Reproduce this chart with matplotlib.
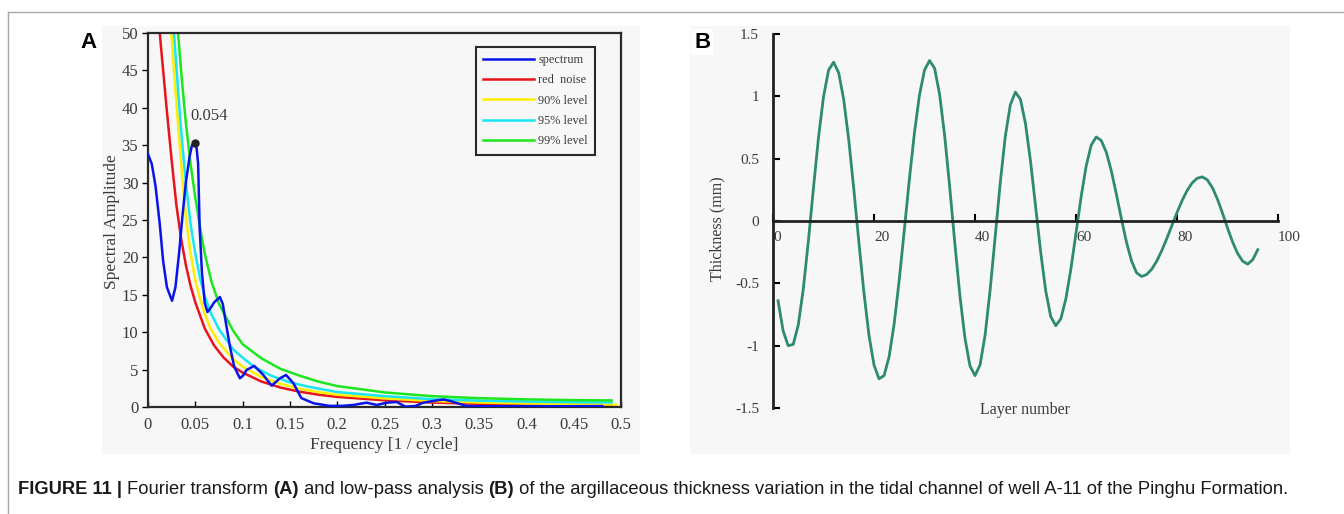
import matplotlib
matplotlib.use("Agg")
import matplotlib.pyplot as plt
from matplotlib.patches import Rectangle
from matplotlib.lines import Line2D

# ---- panel A: spectrum and red-noise confidence levels ----
spec_f = [0.0, 0.004, 0.008, 0.0124, 0.016, 0.02, 0.0254, 0.029, 0.0328, 0.0364,
          0.040, 0.044, 0.0465, 0.0494, 0.0515, 0.053, 0.0546, 0.057, 0.060, 0.0629,
          0.066, 0.070, 0.076, 0.079, 0.0812, 0.084, 0.0866, 0.0911, 0.0971, 0.1005,
          0.1042, 0.1123, 0.1218, 0.1307, 0.1395, 0.1459, 0.1536, 0.162, 0.175, 0.192,
          0.205, 0.217, 0.231, 0.242, 0.2525, 0.263, 0.272, 0.2825, 0.291, 0.3055,
          0.3125, 0.3196, 0.337, 0.36, 0.40, 0.44, 0.48]
spec_a = [33.8, 32.5, 29.5, 24.5, 19.5, 16.0, 14.2, 16.0, 20.5, 25.5,
          30.0, 33.5, 35.0, 35.3, 34.5, 32.5, 24.0, 18.0, 13.9, 12.7,
          13.2, 14.0, 14.7, 13.8, 12.1, 10.0, 8.1, 5.4, 3.84, 4.2,
          4.95, 5.5, 4.3, 2.85, 3.84, 4.28, 3.2, 1.2, 0.5, 0.15,
          0.15, 0.27, 0.58, 0.27, 0.58, 0.67, 0.05, 0.13, 0.58, 0.89,
          1.0, 0.8, 0.13, 0.1, 0.1, 0.1, 0.12]

red_f = [0.0124, 0.016, 0.02, 0.025, 0.03, 0.035, 0.04, 0.045, 0.05, 0.06, 0.07,
         0.08, 0.09, 0.10, 0.12, 0.14, 0.16, 0.18, 0.20, 0.25, 0.30, 0.35, 0.40,
         0.45, 0.49]
red_a = [50, 45, 39.5, 33, 27, 22.5, 19, 16.2, 14, 10.5, 8.2,
         6.6, 5.4, 4.6, 3.4, 2.6, 2.05, 1.65, 1.35, 0.9, 0.6, 0.42, 0.32,
         0.25, 0.22]

l90_f = [0.0247, 0.028, 0.032, 0.036, 0.04, 0.045, 0.05, 0.055, 0.06, 0.066, 0.075,
         0.09, 0.10, 0.12, 0.14, 0.16, 0.18, 0.20, 0.25, 0.30, 0.35, 0.40, 0.45, 0.495]
l90_a = [50, 44, 37.5, 31, 25.5, 20.5, 17, 14.5, 12.5, 10.5, 8.6,
         6.4, 5.4, 4.0, 3.1, 2.45, 2.0, 1.65, 1.15, 0.8, 0.6, 0.47, 0.38, 0.32]

l95_f = [0.0275, 0.032, 0.036, 0.04, 0.045, 0.05, 0.055, 0.06, 0.067, 0.075, 0.09,
         0.10, 0.113, 0.13, 0.15, 0.17, 0.20, 0.25, 0.30, 0.35, 0.40, 0.45, 0.49]
l95_a = [50, 42, 35.5, 30, 24.5, 20.5, 17.2, 14.8, 12.4, 10.4, 7.7,
         6.6, 5.3, 4.2, 3.3, 2.7, 2.0, 1.45, 1.05, 0.85, 0.72, 0.64, 0.6]

l99_f = [0.0317, 0.036, 0.04, 0.045, 0.05, 0.055, 0.06, 0.067, 0.075, 0.09, 0.10,
         0.12, 0.14, 0.16, 0.18, 0.20, 0.25, 0.30, 0.35, 0.40, 0.45, 0.49]
l99_a = [50, 43.5, 38, 32.5, 28, 24, 20.5, 16.8, 13.8, 10.2, 8.4,
         6.5, 5.1, 4.2, 3.4, 2.8, 1.95, 1.45, 1.18, 1.02, 0.92, 0.88]

peak_f, peak_a, peak_label = 0.0494, 35.3, "0.054"

# ---- panel B: low-pass filtered thickness per layer ----
layers = list(range(1, 97))
thickness = [-0.64, -0.88, -1.00, -0.99, -0.835, -0.545, -0.163, 0.26, 0.666, 0.996,
             1.21, 1.274, 1.19, 0.974, 0.651, 0.255, -0.168, -0.573, -0.915, -1.155,
             -1.266, -1.24, -1.087, -0.822, -0.471, -0.074, 0.333, 0.705, 1.009, 1.21,
             1.287, 1.225, 1.014, 0.681, 0.268, -0.176, -0.595, -0.936, -1.162, -1.24,
             -1.155, -0.915, -0.552, -0.125, 0.307, 0.679, 0.933, 1.034, 0.976, 0.78,
             0.478, 0.116, -0.248, -0.559, -0.767, -0.84, -0.784, -0.623, -0.382, -0.097,
             0.19, 0.438, 0.607, 0.674, 0.646, 0.551, 0.401, 0.214, 0.016, -0.171,
             -0.321, -0.416, -0.445, -0.429, -0.386, -0.321, -0.236, -0.139, -0.035, 0.068,
             0.163, 0.244, 0.306, 0.343, 0.354, 0.33, 0.268, 0.176, 0.064, -0.056,
             -0.168, -0.26, -0.322, -0.346, -0.31, -0.23]

a_xticks = [0, 0.05, 0.1, 0.15, 0.2, 0.25, 0.3, 0.35, 0.4, 0.45, 0.5]
a_xlabels = ["0", "0.05", "0.1", "0.15", "0.2", "0.25", "0.3", "0.35", "0.4", "0.45", "0.5"]
a_yticks = list(range(0, 51, 5))
b_xticks = [0, 20, 40, 60, 80, 100]
b_yticks = [1.5, 1, 0.5, 0, -0.5, -1, -1.5]
b_ylabels = ["1.5", "1", "0.5", "0", "-0.5", "-1", "-1.5"]

SERIF = "Liberation Serif"
SANS = "Liberation Sans"
TICK_C = "#3a3a3a"
PANEL_BG = "#f7f7f7"

fig = plt.figure(figsize=(13.44, 5.14), dpi=100)
W, H = 1344, 514


def px_rect(x0, y0, x1, y1):
    """figure-fraction rect from pixel box (y measured from top)"""
    return [x0 / W, 1 - y1 / H, (x1 - x0) / W, (y1 - y0) / H]


# outer frame lines and grey panel backgrounds
fig.add_artist(Line2D([8 / W, 1], [1 - 12 / H] * 2, color="#a8a8a8", lw=1))
fig.add_artist(Line2D([8 / W] * 2, [0, 1 - 12 / H], color="#a8a8a8", lw=1))
for box in [(102, 26, 640, 454), (690, 26, 1290, 454)]:
    r = px_rect(*box)
    fig.add_artist(Rectangle((r[0], r[1]), r[2], r[3], transform=fig.transFigure,
                             facecolor=PANEL_BG, edgecolor="none", zorder=0))

# ---------------- panel A ----------------
axA = fig.add_axes(px_rect(148, 33, 621, 407))
axA.set_facecolor(PANEL_BG)
axA.plot(spec_f, spec_a, color="#0a14e6", lw=1.8, label="spectrum", zorder=5)
axA.plot(red_f, red_a, color="#e8141c", lw=1.8, label="red  noise")
axA.plot(l90_f, l90_a, color="#ffee00", lw=1.8, label="90% level")
axA.plot(l95_f, l95_a, color="#19e6f0", lw=1.8, label="95% level")
axA.plot(l99_f, l99_a, color="#1ee61e", lw=1.8, label="99% level")
axA.plot([peak_f], [peak_a], "o", color="#222222", ms=5, zorder=6)
axA.text(0.0445, 38.9, peak_label, family=SERIF, fontsize=12, color=TICK_C,
         ha="left", va="center")

axA.set_xlim(0, 0.5)
axA.set_ylim(0, 50)
axA.set_xticks(a_xticks)
axA.set_xticklabels(a_xlabels)
axA.set_yticks(a_yticks)
axA.tick_params(axis="x", direction="in", length=4, pad=7, width=1)
axA.tick_params(axis="y", direction="out", length=4, pad=3, width=1)
for lab in axA.get_xticklabels() + axA.get_yticklabels():
    lab.set_family(SERIF)
    lab.set_fontsize(12)
    lab.set_color(TICK_C)
for sp in axA.spines.values():
    sp.set_linewidth(1.6)
    sp.set_color("#2a2a2a")
axA.set_xlabel("Frequency [1 / cycle]", family=SERIF, fontsize=12.5, color=TICK_C)
axA.xaxis.set_label_coords(0.5, -0.081)
axA.set_ylabel("Spectral Amplitude", family=SERIF, fontsize=12.5, color=TICK_C)
axA.yaxis.set_label_coords(-0.06, 0.495)

leg = axA.legend(loc="upper right", bbox_to_anchor=(0.958, 0.98),
                 prop={"family": SERIF, "size": 8.8}, handlelength=4.2,
                 handletextpad=0.3, labelspacing=0.68, borderpad=0.6,
                 fancybox=False, framealpha=1, facecolor=PANEL_BG)
leg.get_frame().set_edgecolor("#2a2a2a")
leg.get_frame().set_linewidth(1.5)
for t in leg.get_texts():
    t.set_color(TICK_C)

# ---------------- panel B ----------------
axB = fig.add_axes(px_rect(773, 34, 1278, 408))
axB.set_facecolor(PANEL_BG)
axB.plot(layers, thickness, color="#2e8a72", lw=2)
axB.set_xlim(0, 100)
axB.set_ylim(-1.5, 1.5)
axB.spines["top"].set_visible(False)
axB.spines["right"].set_visible(False)
axB.spines["bottom"].set_position(("data", 0))
for sp in ("left", "bottom"):
    axB.spines[sp].set_linewidth(2)
    axB.spines[sp].set_color("#222222")
axB.set_xticks(b_xticks)
axB.set_yticks(b_yticks)
axB.set_yticklabels(b_ylabels)
axB.tick_params(axis="x", direction="in", length=5, pad=7, width=1.5)
axB.tick_params(axis="y", direction="in", length=5, pad=10, width=1.5)
for lab in axB.get_xticklabels() + axB.get_yticklabels():
    lab.set_family(SERIF)
    lab.set_fontsize(11)
    lab.set_color(TICK_C)
for lab in axB.get_xticklabels():
    lab.set_horizontalalignment("left")
axB.text(0.5, -0.005, "Layer number", transform=axB.transAxes, family=SERIF,
         fontsize=11.5, color=TICK_C, ha="center", va="center")
axB.set_ylabel("Thickness (mm)", family=SERIF, fontsize=11.5, color=TICK_C)
axB.yaxis.set_label_coords(-0.095, 0.48)

# panel letters
fig.text(80 / W, 1 - 42 / H, "A", family=SANS, weight="bold", fontsize=16,
         va="center", ha="left",
         bbox=dict(facecolor="white", edgecolor="none", pad=2))
fig.text(694 / W, 1 - 42 / H, "B", family=SANS, weight="bold", fontsize=16,
         va="center", ha="left",
         bbox=dict(facecolor="white", edgecolor="none", pad=2))

# caption with bold runs
runs = [("FIGURE 11 | ", "bold"), ("Fourier transform ", "normal"), ("(A)", "bold"),
        (" and low-pass analysis ", "normal"), ("(B)", "bold"),
        (" of the argillaceous thickness variation in the tidal channel of well A-11 "
         "of the Pinghu Formation.", "normal")]
renderer = fig.canvas.get_renderer()
x = 18 / W
for txt, wt in runs:
    t = fig.text(x, 1 - 490 / H, txt, family=SANS, weight=wt, fontsize=13.2,
                 color="#1a1a1a", va="center", ha="left")
    bb = t.get_window_extent(renderer)
    x += bb.width / W

fig.savefig("out.png", dpi=100)
